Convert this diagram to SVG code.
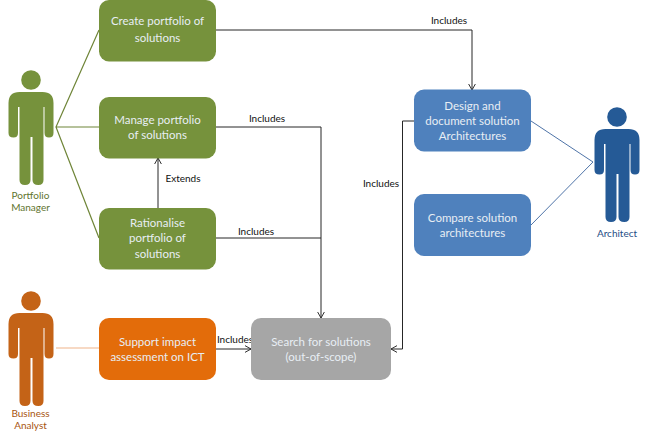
<svg xmlns="http://www.w3.org/2000/svg" width="648" height="438" viewBox="0 0 648 438">
<style>
text{font-family:"Lato","Carlito","Noto Sans",sans-serif}
.n{font-size:11.5px;fill:#e8eef4;text-anchor:middle}
.l{font-size:10px;fill:#111;text-anchor:middle}
.a{font-size:10px;text-anchor:middle}
.c{fill:none;stroke:#262626;stroke-width:1}
.g{fill:#76923c}.o{fill:#e36c0a}.y{fill:#a6a6a6}.b{fill:#4f81bd}
</style>
<defs>
<marker id="arr" viewBox="0 0 10 10" refX="9" refY="5" markerWidth="8" markerHeight="8" markerUnits="userSpaceOnUse" orient="auto"><path d="M1.500 0.800L9 5L1.500 9.200" fill="none" stroke="#262626" stroke-width="1.200"/></marker>
<symbol id="person" viewBox="0 0 46 116" width="46" height="116" overflow="visible">
<circle cx="22.500" cy="10" r="9.800"/>
<path d="M11 22H34Q45 22 45 33V63Q45 67.500 40.500 67.500Q36 67.500 36 63V37H35V110Q35 115 29.800 115Q24 115 24 110V67H22V110Q22 115 16.500 115Q11 115 11 110V37H9.500V63Q9.500 67.500 5 67.500Q0 67.500 0 63V33Q0 22 11 22Z"/>
</symbol>
</defs>
<g id="connectors">
<path d="M99 30L56 127L99 238M56 127H99" fill="none" stroke="#6f8538" stroke-width="1.200"/>
<path d="M56 348H99" fill="none" stroke="#f0b48a" stroke-width="1.200"/>
<path d="M531 121L593 162L531 225" fill="none" stroke="#4f74a8" stroke-width="1"/>
<path class="c" d="M216 30H472V90" marker-end="url(#arr)"/>
<path class="c" d="M216 127H321V318" marker-end="url(#arr)"/>
<path class="c" d="M216 238H321"/>
<path class="c" d="M158 208V158" marker-end="url(#arr)"/>
<path class="c" d="M216 349H251" marker-end="url(#arr)"/>
<path class="c" d="M414 121H402.500V349H391" marker-end="url(#arr)"/>
<text class="l" x="449" y="24">Includes</text>
<text class="l" x="267" y="122">Includes</text>
<text class="l" x="183" y="182">Extends</text>
<text class="l" x="256" y="235">Includes</text>
<text class="l" x="381" y="187">Includes</text>
<text class="l" x="235" y="343">Includes</text>
</g>
<g id="create"><rect class="g" x="99" y="0" width="117" height="61.500" rx="10"/><text class="n" x="157.500" y="25">Create portfolio of</text><text class="n" x="157.500" y="42">solutions</text></g>
<g id="manage"><rect class="g" x="99" y="97" width="117" height="61.500" rx="10"/><text class="n" x="157.500" y="124">Manage portfolio</text><text class="n" x="157.500" y="139">of solutions</text></g>
<g id="rationalise"><rect class="g" x="99" y="208" width="117" height="61.500" rx="10"/><text class="n" x="157.500" y="227">Rationalise</text><text class="n" x="157.500" y="242">portfolio of</text><text class="n" x="157.500" y="258">solutions</text></g>
<g id="support"><rect class="o" x="99" y="318" width="117" height="62" rx="10"/><text class="n" x="157.500" y="346">Support impact</text><text class="n" x="157.500" y="361">assessment on ICT</text></g>
<g id="search"><rect class="y" x="251" y="318" width="140" height="62" rx="10"/><text class="n" x="321" y="346">Search for solutions</text><text class="n" x="321" y="361">(out-of-scope)</text></g>
<g id="design"><rect class="b" x="414" y="89.500" width="117" height="62" rx="10"/><text class="n" x="472.500" y="110">Design and</text><text class="n" x="472.500" y="125">document solution</text><text class="n" x="472.500" y="140">Architectures</text></g>
<g id="compare"><rect class="b" x="414" y="194" width="117" height="62" rx="10"/><text class="n" x="472.500" y="222">Compare solution</text><text class="n" x="472.500" y="237">architectures</text></g>
<g id="portfolio-manager"><use href="#person" x="8.500" y="70" fill="#76923c"/><text class="a" x="30.500" y="199" fill="#5f7530">Portfolio</text><text class="a" x="30.500" y="211" fill="#5f7530">Manager</text></g>
<g id="business-analyst"><use href="#person" x="8.500" y="291" fill="#c46317"/><text class="a" x="30.500" y="417" fill="#a8540f">Business</text><text class="a" x="30.500" y="429" fill="#a8540f">Analyst</text></g>
<g id="architect"><use href="#person" x="594.500" y="107" fill="#255a96"/><text class="a" x="617" y="237" fill="#1f4e85">Architect</text></g>
</svg>
